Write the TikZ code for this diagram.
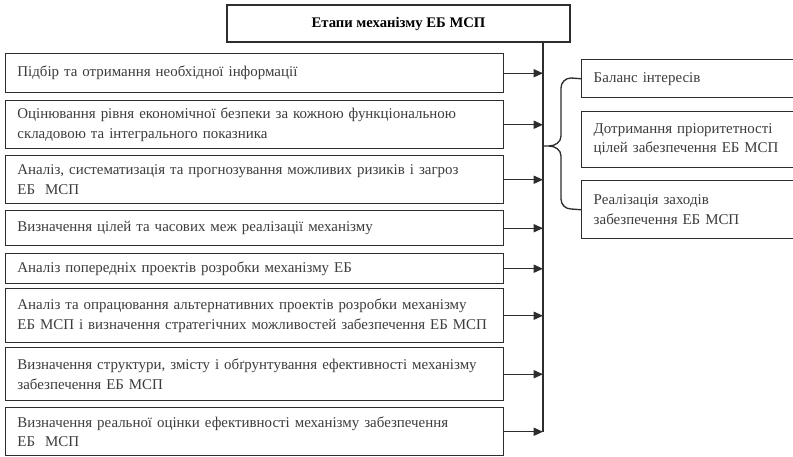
\documentclass[tikz,border=0pt]{standalone}
\usepackage{fontspec}
\setmainfont{Liberation Serif}
\usetikzlibrary{arrows.meta}
\definecolor{lc}{RGB}{45,45,45}
\definecolor{tc}{RGB}{60,60,60}
\begin{document}
\begin{tikzpicture}[x=0.75pt,y=-0.75pt,
  ln/.style={draw=lc, line width=1.1pt},
  arr/.style={ln, -{Triangle[length=7pt,width=6pt]}},
  lbox/.style={draw=lc, line width=1.1pt, anchor=north west, rectangle,
    text width=356pt, inner xsep=8.75pt, inner ysep=0pt, align=left,
    font=\fontsize{11.2}{14.5}\selectfont, text=tc},
  rbox/.style={draw=lc, line width=1.1pt, anchor=north west, rectangle,
    text width=170pt, inner xsep=9pt, inner ysep=0pt, align=left,
    font=\fontsize{11.2}{14.5}\selectfont, text=tc},
  titlebox/.style={draw=lc, line width=1.1pt, rectangle, minimum width=257.25pt,
    minimum height=27.75pt, font=\fontsize{11}{13}\selectfont\bfseries, text=black}
]
\useasboundingbox (0,0) rectangle (793,457);
\clip (0,0) rectangle (793,457);
\fill[white] (0,0) rectangle (793,457);

\node[titlebox] (t) at (398.5,23.5) {Етапи механізму ЕБ МСП};

\node[lbox, minimum height=29.25pt] (b1) at (5,53) {Підбір та отримання необхідної інформації};
\node[lbox, minimum height=36pt] (b2) at (5,100) {Оцінювання рівня економічної безпеки за кожною функціональною\\складовою та інтегрального показника};
\node[lbox, minimum height=36pt] (b3) at (5,155) {Аналіз, систематизація та прогнозування можливих ризиків і загроз\\ЕБ\ \ МСП};
\node[lbox, minimum height=26.25pt] (b4) at (5,210) {Визначення цілей та часових меж реалізації механізму};
\node[lbox, minimum height=22.5pt] (b5) at (5,253) {Аналіз попередніх проектів розробки механізму ЕБ};
\node[lbox, minimum height=40.5pt] (b6) at (5,288) {Аналіз та опрацювання альтернативних проектів розробки механізму\\ЕБ МСП і визначення стратегічних можливостей забезпечення ЕБ МСП};
\node[lbox, minimum height=39.75pt] (b7) at (5,347) {Визначення структури, змісту і обґрунтування ефективності механізму\\забезпечення ЕБ МСП};
\node[lbox, minimum height=36pt] (b8) at (5,407) {Визначення реальної оцінки ефективності механізму забезпечення\\ЕБ\ \ МСП};

\node[rbox, minimum height=28.5pt] (rA) at (581,59) {Баланс інтересів};
\node[rbox, minimum height=42pt] (rB) at (581,111) {Дотримання пріоритетності\\цілей забезпечення ЕБ МСП};
\node[rbox, minimum height=43.5pt] (rC) at (581,180) {Реалізація заходів\\забезпечення ЕБ МСП};

\coordinate (vl) at (543,0);
\coordinate (vend) at (543,432);
\draw[ln] (t.south -| vl) -- (vend);

\foreach \b in {b1,b2,b3,b4,b5,b6,b7,b8}
  \draw[arr] (\b.east) -- (\b.east -| vl);

\coordinate (tip) at (543,146);
\draw[ln, line width=1pt] (tip) -- (549,146)
  to[out=0,in=-90] (561,136) -- (561,88) to[out=90,in=180] (571,78) -- (rA.west);
\draw[ln, line width=1pt] (549,146)
  to[out=0,in=90] (561,156) -- (561,199) to[out=-90,in=180] (571,209) -- (rC.west);
\end{tikzpicture}
\end{document}
